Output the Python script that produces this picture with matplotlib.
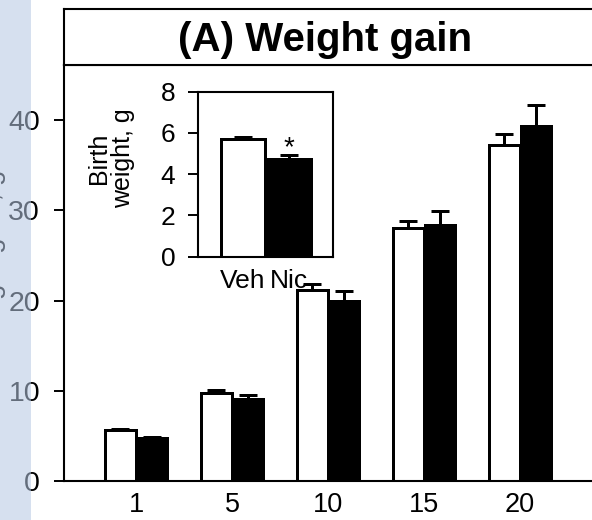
import matplotlib
matplotlib.use("Agg")
import matplotlib.pyplot as plt
from matplotlib.patches import Rectangle

plt.rcParams['font.family'] = ['Liberation Sans', 'DejaVu Sans']

# postnatal day groups
days = ["1", "5", "10", "15", "20"]
veh = [5.7, 9.7, 21.2, 28.0, 37.2]
veh_err = [0.1, 0.35, 0.6, 0.8, 1.2]
nic = [4.8, 9.1, 20.0, 28.4, 39.3]
nic_err = [0.1, 0.4, 1.0, 1.5, 2.4]

# inset: birth weight
birth_groups = ["Veh", "Nic"]
birth = [5.7, 4.75]
birth_err = [0.1, 0.2]

W, H = 592, 520
fig = plt.figure(figsize=(W / 100, H / 100), dpi=100)


def box(l, t, r, b):
    return [l / W, 1 - b / H, (r - l) / W, (b - t) / H]


lw = 2.16  # ~3 px

# main axes
ax = fig.add_axes(box(64, 65, 596, 481))
x = list(range(len(days)))
bw = 0.32
ax.bar([i - 0.165 for i in x], veh, bw, color="white", edgecolor="black", linewidth=lw, zorder=2)
ax.bar([i + 0.165 for i in x], nic, bw, color="black", edgecolor="black", linewidth=lw, zorder=2)
ax.errorbar([i - 0.165 for i in x], veh, yerr=[[0] * len(veh), veh_err], fmt="none",
            ecolor="black", elinewidth=lw, capsize=6.5, capthick=lw, zorder=1)
ax.errorbar([i + 0.165 for i in x], nic, yerr=[[0] * len(nic), nic_err], fmt="none",
            ecolor="black", elinewidth=lw, capsize=6.5, capthick=lw, zorder=1)
ax.set_xlim(-0.75, 4.79)
ax.set_ylim(0, 46.1)
ax.set_xticks(x)
ax.set_xticklabels(days)
ax.set_yticks([0, 10, 20, 30, 40])
ax.tick_params(axis="x", length=0, pad=8, labelsize=19.5)
ax.tick_params(axis="y", length=7.2, width=1.4, pad=10, labelsize=20.5, direction="out")
for s in ["left", "bottom", "top"]:
    ax.spines[s].set_linewidth(1.5)
ax.spines["right"].set_visible(False)

# title box
tax = fig.add_axes(box(64, 9, 596, 65))
tax.set_xticks([])
tax.set_yticks([])
for s in tax.spines.values():
    s.set_linewidth(1.5)
fig.text(325 / W, 1 - 51 / H, "(A) Weight gain", ha="center", va="baseline",
         fontsize=29, fontweight="bold")

# inset
iax = fig.add_axes(box(197.7, 91.7, 333, 256.7))
ix = [0, 1]
iax.bar(ix, birth, 0.94, color=["white", "black"], edgecolor="black", linewidth=lw, zorder=2)
iax.errorbar(ix, birth, yerr=[[0, 0], birth_err], fmt="none", ecolor="black",
             elinewidth=lw, capsize=6.5, capthick=lw, zorder=1)
iax.text(1, 4.9, "*", ha="center", va="baseline", fontsize=20)
iax.set_xlim(-0.966, 1.94)
iax.set_ylim(0, 8)
iax.set_yticks([0, 2, 4, 6, 8])
iax.set_xticks(ix)
iax.set_xticklabels(birth_groups)
iax.tick_params(axis="x", length=0, pad=9, labelsize=19)
iax.tick_params(axis="y", length=7.2, width=1.4, pad=9, labelsize=19, direction="out")
for s in iax.spines.values():
    s.set_linewidth(1.5)
fig.text(111 / W, 1 - 158 / H, "Birth\nweight, g", rotation=90, ha="center", va="center",
         fontsize=18, linespacing=1.0)

# cut-off axis label and the pale strip over the left edge
fig.text(-7 / W, 1 - 170 / H, "Cumulative weight gain, g", rotation=90, ha="center",
         va="top", fontsize=20)
fig.patches.append(Rectangle((0, 0), 31 / W, 1, transform=fig.transFigure,
                             facecolor=(181 / 255, 199 / 255, 226 / 255), alpha=0.55,
                             edgecolor="none", zorder=10))

fig.savefig("out.png", dpi=100)
